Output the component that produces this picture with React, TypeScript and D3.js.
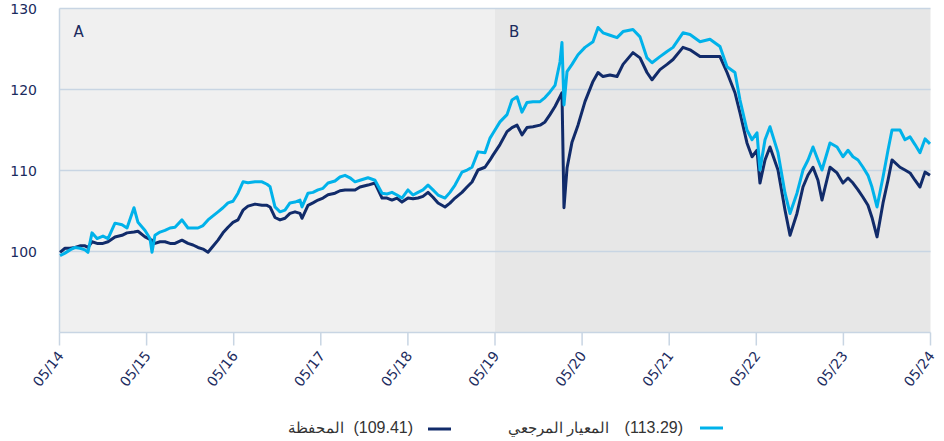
import React from "react";
import * as d3 from "d3";

// Time as decimal years (05/14 = 2014.333)
const dates = [
  2014.339, 2014.396, 2014.454, 2014.511, 2014.568, 2014.626, 2014.66, 2014.706, 2014.764, 2014.832,
  2014.89, 2014.97, 2015.051, 2015.108, 2015.188, 2015.234, 2015.315, 2015.372, 2015.395, 2015.429,
  2015.487, 2015.544, 2015.602, 2015.659, 2015.739, 2015.808, 2015.866, 2015.923, 2015.981, 2016.038,
  2016.095, 2016.153, 2016.21, 2016.268, 2016.325, 2016.382, 2016.44, 2016.497, 2016.578, 2016.658,
  2016.715, 2016.75, 2016.807, 2016.865, 2016.922, 2016.979, 2017.037, 2017.094, 2017.117, 2017.186,
  2017.243, 2017.301, 2017.358, 2017.416, 2017.496, 2017.553, 2017.611, 2017.668, 2017.726, 2017.783,
  2017.875, 2017.955, 2018.036, 2018.093, 2018.15, 2018.208, 2018.265, 2018.334, 2018.392, 2018.449,
  2018.506, 2018.564, 2018.621, 2018.679, 2018.759, 2018.816, 2018.874, 2018.954, 2019.012, 2019.069,
  2019.138, 2019.218, 2019.276, 2019.31, 2019.39, 2019.471, 2019.528, 2019.586, 2019.643, 2019.7,
  2019.769, 2019.85, 2019.907, 2019.964, 2020.022, 2020.079, 2020.102, 2020.125, 2020.16, 2020.217,
  2020.286, 2020.366, 2020.458, 2020.516, 2020.573, 2020.653, 2020.734, 2020.803, 2020.917, 2020.998,
  2021.078, 2021.136, 2021.227, 2021.308, 2021.377, 2021.491, 2021.572, 2021.687, 2021.801, 2021.916,
  2021.997, 2022.088, 2022.146, 2022.226, 2022.284, 2022.341, 2022.375, 2022.433, 2022.49, 2022.582,
  2022.663, 2022.72, 2022.8, 2022.869, 2022.927, 2022.984, 2023.041, 2023.087, 2023.179, 2023.26,
  2023.328, 2023.386, 2023.443, 2023.501, 2023.558, 2023.615, 2023.661, 2023.719, 2023.788, 2023.845,
  2023.891, 2023.983, 2024.04, 2024.098, 2024.155, 2024.212, 2024.27, 2024.327,
];

const portfolio = [
  99.9, 100.4, 100.4, 100.5, 100.7, 100.7, 100.5, 101.2, 101.0, 101.0,
  101.2, 101.8, 102.0, 102.3, 102.4, 102.5, 101.8, 101.5, 101.4, 101.0,
  101.2, 101.2, 101.0, 101.0, 101.4, 101.0, 100.8, 100.5, 100.3, 99.9,
  100.65, 101.4, 102.3, 103.0, 103.6, 103.9, 105.1, 105.6, 105.85, 105.7,
  105.7, 105.5, 104.2, 103.9, 104.1, 104.7, 104.9, 104.7, 104.1, 105.7,
  106.0, 106.35, 106.6, 107.0, 107.2, 107.5, 107.6, 107.6, 107.6, 107.96,
  108.2, 108.45, 106.6, 106.6, 106.35, 106.6, 106.1, 106.6, 106.5, 106.6,
  106.8, 107.3, 106.7, 105.98, 105.5, 105.98, 106.6, 107.3, 107.96, 108.58,
  110.06, 110.4, 111.3, 111.9, 113.2, 114.8, 115.3, 115.6, 114.4, 115.3,
  115.4, 115.6, 116.0, 116.9, 117.9, 119.1, 119.6, 105.4, 110.3, 113.5,
  115.6, 118.5, 121.0, 122.1, 121.6, 121.8, 121.6, 123.1, 124.55, 123.9,
  122.1, 121.2, 122.45, 123.1, 123.7, 125.2, 124.9, 124.06, 124.06, 124.06,
  122.1, 119.6, 117.1, 113.4, 111.7, 112.5, 108.45, 111.3, 112.9, 110.06,
  105.1, 102.0, 104.7, 107.96, 109.44, 110.4, 108.8, 106.35, 110.4, 109.7,
  108.45, 109.07, 108.45, 107.6, 106.7, 105.7, 104.2, 101.8, 106.0, 108.8,
  111.3, 110.4, 110.06, 109.7, 108.8, 107.96, 109.8, 109.41,
];

const benchmark = [
  99.5, 99.8, 100.2, 100.5, 100.4, 100.2, 99.9, 102.3, 101.6, 101.9,
  101.6, 103.5, 103.3, 102.9, 105.4, 103.6, 102.6, 101.6, 99.9, 102.0,
  102.4, 102.6, 102.9, 103.0, 103.9, 102.9, 102.9, 102.9, 103.2, 103.9,
  104.4, 104.9, 105.4, 106.0, 106.2, 107.2, 108.6, 108.5, 108.6, 108.6,
  108.3, 108.0, 105.5, 104.9, 105.1, 106.0, 106.1, 106.35, 105.5, 107.2,
  107.3, 107.6, 107.8, 108.45, 108.7, 109.2, 109.4, 109.1, 108.6, 108.8,
  109.1, 108.8, 107.2, 107.1, 107.3, 106.97, 106.6, 107.6, 106.97, 107.3,
  107.6, 108.2, 107.6, 106.97, 106.6, 107.3, 108.2, 109.8, 110.06, 110.4,
  112.3, 112.2, 114.0, 114.6, 116.0, 116.9, 118.7, 119.1, 117.2, 118.4,
  118.5, 118.5, 119.0, 119.7, 120.5, 123.4, 125.8, 118.1, 122.2, 123.1,
  124.3, 125.2, 125.9, 127.65, 127.0, 126.7, 126.4, 127.15, 127.4, 126.5,
  123.9, 123.3, 124.06, 124.7, 125.2, 127.0, 126.8, 125.9, 126.2, 125.3,
  122.8, 122.1, 118.7, 115.0, 113.8, 114.65, 110.06, 113.8, 115.4, 112.2,
  107.2, 104.7, 107.2, 110.06, 111.3, 112.9, 111.3, 110.06, 113.4, 112.9,
  111.7, 112.5, 111.7, 111.3, 110.4, 109.4, 107.96, 105.5, 109.2, 112.5,
  115.0, 115.0, 113.8, 114.15, 113.2, 112.2, 113.9, 113.29,
];

const xTickValues = [2014.333, 2015.333, 2016.333, 2017.333, 2018.333, 2019.333, 2020.333, 2021.333, 2022.333, 2023.333, 2024.333];
const xTickLabels = ["05/14", "05/15", "05/16", "05/17", "05/18", "05/19", "05/20", "05/21", "05/22", "05/23", "05/24"];
const yTickValues = [100, 110, 120, 130];
const regions = [
  { label: "A", start: 2014.333, end: 2019.333 },
  { label: "B", start: 2019.333, end: 2024.333 },
];
const seriesNames = ["المحفظة", "المعيار المرجعي"];
const seriesLast = ["(109.41)", "(113.29)"];

const W = 944;
const H = 441;
const NAVY = "#112b6a";
const CYAN = "#00b2ea";
const GRID = "#c8d5e3";
const TXT = "#1b2b5e";

export default function App() {
  const x = d3.scaleLinear().domain([2014.333, 2024.333]).range([59.5, 930.5]);
  const y = d3.scaleLinear().domain([90, 130]).range([332.5, 8.5]);
  const line = d3
    .line<number>()
    .x((_, i) => x(dates[i]))
    .y((d) => y(d));

  const regionFills = ["#f0f0f0", "#e7e7e7"];
  const font = "'DejaVu Sans', Verdana, sans-serif";
  const legFont = "'Liberation Sans', Arial, sans-serif";

  return (
    <svg
      width={W}
      height={H}
      style={{ position: "absolute", left: 0, top: 0, background: "#fff" }}
    >
      {regions.map((r, i) => (
        <rect
          key={r.label}
          x={x(r.start)}
          y={y(130)}
          width={x(r.end) - x(r.start)}
          height={y(90) - y(130)}
          fill={regionFills[i]}
        />
      ))}
      {yTickValues.map((v) => (
        <line key={v} x1={x(2014.333)} x2={x(2024.333)} y1={y(v)} y2={y(v)} stroke={GRID} strokeWidth={1.5} />
      ))}
      <line x1={x(2014.333)} x2={x(2014.333)} y1={y(130)} y2={y(90)} stroke={GRID} strokeWidth={1.5} />
      <line x1={x(2014.333)} x2={x(2024.333)} y1={y(90)} y2={y(90)} stroke={GRID} strokeWidth={1.5} />
      {xTickValues.map((v, i) => (
        <g key={v}>
          <line x1={x(v)} x2={x(v)} y1={y(90)} y2={y(90) + 13} stroke={GRID} strokeWidth={1.5} />
          <text
            transform={`translate(${x(v) + 5},${356}) rotate(-52)`}
            textAnchor="end"
            fontFamily={font}
            fontSize={14}
            fill={TXT}
          >
            {xTickLabels[i]}
          </text>
        </g>
      ))}
      {yTickValues.map((v) => (
        <text key={v} x={37} y={y(v) + 5} textAnchor="end" fontFamily={font} fontSize={14} fill={TXT}>
          {v}
        </text>
      ))}
      {regions.map((r) => (
        <text key={r.label} x={x(r.start) + 14} y={37} fontFamily={font} fontSize={15} fill={TXT}>
          {r.label}
        </text>
      ))}
      <path d={line(portfolio) || ""} fill="none" stroke={NAVY} strokeWidth={3} strokeLinejoin="round" />
      <path d={line(benchmark) || ""} fill="none" stroke={CYAN} strokeWidth={3} strokeLinejoin="round" />

      {/* legend */}
      <line x1={428} x2={451} y1={429} y2={429} stroke={NAVY} strokeWidth={3} />
      <text x={413} y={433} textAnchor="end" fontFamily={legFont} fontSize={16} fill="#333">
        {seriesLast[0]}
      </text>
      <text x={344} y={433} textAnchor="end" fontFamily={legFont} fontSize={15} fill="#333">
        {seriesNames[0]}
      </text>
      <line x1={700} x2={723} y1={428} y2={428} stroke={CYAN} strokeWidth={3} />
      <text x={683} y={433} textAnchor="end" fontFamily={legFont} fontSize={16} fill="#333">
        {seriesLast[1]}
      </text>
      <text x={609} y={433} textAnchor="end" fontFamily={legFont} fontSize={15} fill="#333">
        {seriesNames[1]}
      </text>
    </svg>
  );
}
